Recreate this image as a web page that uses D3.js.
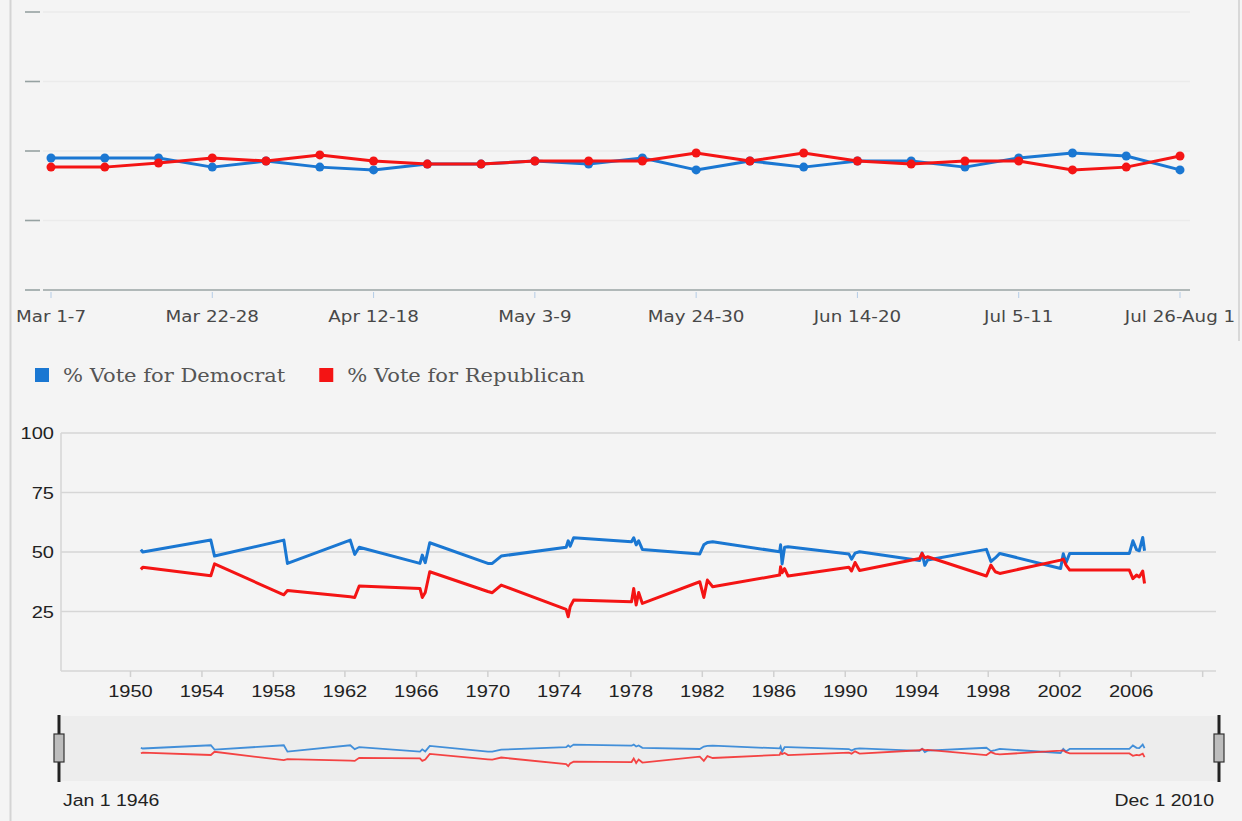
<!DOCTYPE html>
<html>
<head>
<meta charset="utf-8">
<script src="https://cdn.jsdelivr.net/npm/d3@7"></script>
<style>
  body { margin: 0; background: #f4f4f4; }
  svg { display: block; }
</style>
</head>
<body>
<div id="chart"></div>
<script>
// weekly poll (top chart)
const weeks = ["Mar 1-7", "Mar 8-14", "Mar 15-21", "Mar 22-28", "Mar 29-Apr 4", "Apr 5-11",
    "Apr 12-18", "Apr 19-25", "Apr 26-May 2", "May 3-9", "May 10-16", "May 17-23",
    "May 24-30", "May 31-Jun 6", "Jun 7-13", "Jun 14-20", "Jun 21-27", "Jun 28-Jul 4",
    "Jul 5-11", "Jul 12-18", "Jul 19-25", "Jul 26-Aug 1"];
const demWeekly = [47.5, 47.5, 47.5, 44.2, 46.4, 44.2, 43.2, 45.3, 45.3, 46.4, 45.3,
    47.5, 43.2, 46.4, 44.2, 46.4, 46.4, 44.2, 47.5, 49.3, 48.2, 43.2];
const repWeekly = [44.2, 44.2, 45.7, 47.5, 46.4, 48.6, 46.4, 45.3, 45.3, 46.4, 46.4,
    46.4, 49.3, 46.4, 49.3, 46.4, 45.3, 46.4, 46.4, 43.2, 44.2, 48.2];
const weekTickEvery = 3;
const weekTicksY = [0, 25, 50, 75, 100];

// long history (bottom chart)
const pollDates = ["1950-08-01", "1950-09-10", "1954-07-01", "1954-09-15", "1958-08-01", "1958-10-15",
    "1962-04-20", "1962-07-20", "1962-10-20", "1966-03-15", "1966-05-01", "1966-07-01", "1966-10-01",
    "1970-01-01", "1970-04-01", "1970-10-01", "1974-05-20", "1974-07-01", "1974-08-10", "1974-10-20",
    "1978-01-15", "1978-03-01", "1978-04-20", "1978-06-10", "1978-08-25", "1981-11-10", "1982-02-01",
    "1982-04-15", "1982-08-01", "1986-05-01", "1986-05-20", "1986-06-20", "1986-08-10", "1986-10-20",
    "1990-03-15", "1990-05-10", "1990-07-20", "1990-10-20", "1994-03-01", "1994-04-20", "1994-06-15",
    "1994-08-10", "1997-11-25", "1998-02-25", "1998-05-25", "1998-08-25", "2002-01-20", "2002-03-15",
    "2002-05-10", "2002-07-25", "2005-11-25", "2006-02-05", "2006-04-20", "2006-06-15", "2006-08-25",
    "2006-10-01"];
const demVote = [51, 50, 55, 48.3, 55, 45.2,
    55, 49, 52, 45.2, 48.7, 45.5, 53.9,
    45.2, 45.2, 48.3, 52, 54.7, 52.4, 56,
    54.3, 56, 53, 54.7, 51.1, 49.2, 53,
    54, 54.3, 50.1, 53, 45, 52, 52.2,
    49.2, 47, 49.5, 50.1, 46.4, 49.6, 44.4,
    46.6, 51.1, 46, 47.5, 49.4, 43.1, 49.3,
    45.5, 49.4, 49.4, 54.7, 51, 50.5, 56.1,
    50.5];
const repVote = [42.7, 43.6, 40, 45, 32, 33.8,
    31.2, 30.9, 35.7, 34.7, 30.9, 33, 41.7,
    33.4, 32.9, 36.1, 25.9, 22.8, 27, 29.8,
    29.1, 34.7, 27.7, 33, 28.4, 37.5, 30.9,
    38.2, 35.4, 40.3, 43.8, 41.3, 43, 39.9,
    43.6, 42, 45.6, 42.2, 47.3, 49.4, 47.5,
    48, 39.9, 44.5, 41.7, 41, 46.6, 47,
    44.5, 42.4, 42.4, 38.8, 40.3, 39.5, 42,
    36.8];
const seriesNames = ["% Vote for Democrat", "% Vote for Republican"];
const valueTicks = [25, 50, 75, 100];
const rangeStart = "1946-01-01";
const rangeEnd = "2010-12-01";

const BLUE = "#1a77d2";
const RED = "#f41414";
const STRETCH = 1.18;   // the picture's text is a bit wide

const width = 1242, height = 821;
const svg = d3.select("#chart").append("svg")
    .attr("width", width)
    .attr("height", height);

svg.append("rect").attr("width", width).attr("height", height).attr("fill", "#f4f4f4");

// place text at (x,y) and widen it
function placeText(sel, fx, fy) {
    sel.attr("transform", (d, i) => `translate(${fx(d, i)},${fy(d, i)}) scale(${STRETCH},1)`);
}

// panel borders
svg.append("line").attr("x1", 10.5).attr("x2", 10.5).attr("y1", 0).attr("y2", height)
    .attr("stroke", "#d4d4d4").attr("stroke-width", 2);
svg.append("line").attr("x1", 1239).attr("x2", 1239).attr("y1", 0).attr("y2", 341)
    .attr("stroke", "#d8d8d8").attr("stroke-width", 2);

// ---------- TOP CHART ----------
const xWeek = d3.scalePoint().domain(weeks).range([51, 1180]);
const yWeek = d3.scaleLinear().domain([0, 100]).range([290, 12]);

const topChart = svg.append("g");

topChart.selectAll(".grid")
    .data(weekTicksY.slice(1))
    .join("line")
    .attr("x1", 43).attr("x2", 1190)
    .attr("y1", d => yWeek(d)).attr("y2", d => yWeek(d))
    .attr("stroke", "#ebebeb").attr("stroke-width", 1.5);

topChart.selectAll(".dash")
    .data(weekTicksY)
    .join("line")
    .attr("x1", 25).attr("x2", 40)
    .attr("y1", d => yWeek(d)).attr("y2", d => yWeek(d))
    .attr("stroke", "#96a2a2").attr("stroke-width", 1.6);

topChart.append("line")
    .attr("x1", 43).attr("x2", 1190)
    .attr("y1", yWeek(0)).attr("y2", yWeek(0))
    .attr("stroke", "#9aa4a4").attr("stroke-width", 1.5);

const labelWeeks = weeks.filter((d, i) => i % weekTickEvery === 0);

topChart.selectAll(".wtick")
    .data(labelWeeks)
    .join("line")
    .attr("x1", d => xWeek(d)).attr("x2", d => xWeek(d))
    .attr("y1", yWeek(0) + 2).attr("y2", yWeek(0) + 8)
    .attr("stroke", "#b4cce6").attr("stroke-width", 1);

topChart.selectAll(".wlabel")
    .data(labelWeeks)
    .join("text")
    .call(placeText, d => xWeek(d), () => 322)
    .attr("text-anchor", "middle")
    .attr("font-family", "DejaVu Sans, Verdana, sans-serif")
    .attr("font-size", 15.5)
    .attr("fill", "#484848")
    .text(d => d);

const weekLine = d3.line().x((d, i) => xWeek(weeks[i])).y(d => yWeek(d));

[[demWeekly, BLUE], [repWeekly, RED]].forEach(([vals, col]) => {
    topChart.append("path")
        .datum(vals)
        .attr("d", weekLine)
        .attr("fill", "none")
        .attr("stroke", col)
        .attr("stroke-width", 3)
        .attr("stroke-linejoin", "round");
    topChart.selectAll(null)
        .data(vals)
        .join("circle")
        .attr("cx", (d, i) => xWeek(weeks[i]))
        .attr("cy", d => yWeek(d))
        .attr("r", 4.5)
        .attr("fill", col);
});

// ---------- LEGEND ----------
const legend = svg.append("g").attr("transform", "translate(35,375)");
const legendStretch = 1.17;
let lx = 0;
seriesNames.forEach((name, i) => {
    const g = legend.append("g").attr("transform", `translate(${lx},0)`);
    g.append("rect").attr("x", 0).attr("y", -7).attr("width", 14).attr("height", 14)
        .attr("fill", i === 0 ? BLUE : RED);
    const t = g.append("text")
        .attr("transform", `translate(28,6.5) scale(${legendStretch},1)`)
        .attr("font-family", "DejaVu Serif, serif")
        .attr("font-size", 18)
        .attr("fill", "#555")
        .text(name);
    lx += 28 + t.node().getComputedTextLength() * legendStretch + 34;
});

// ---------- BOTTOM CHART ----------
const parse = d3.timeParse("%Y-%m-%d");
const rows = pollDates.map((d, i) => ({ date: parse(d), dem: demVote[i], rep: repVote[i] }));

const x = d3.scaleTime().domain([parse(rangeStart), parse(rangeEnd)]).range([59, 1219]);
const y = d3.scaleLinear().domain([0, 100]).range([671, 433]);

const main = svg.append("g");

main.selectAll(".ygrid")
    .data(valueTicks)
    .join("line")
    .attr("x1", 61).attr("x2", 1216)
    .attr("y1", d => y(d)).attr("y2", d => y(d))
    .attr("stroke", "#d6d6d6").attr("stroke-width", 1.5);

main.append("line").attr("x1", 61).attr("x2", 61).attr("y1", y(100)).attr("y2", y(0))
    .attr("stroke", "#d6d6d6").attr("stroke-width", 1.5);
main.append("line").attr("x1", 61).attr("x2", 1216).attr("y1", y(0)).attr("y2", y(0))
    .attr("stroke", "#d6d6d6").attr("stroke-width", 1.5);

main.selectAll(".ylabel")
    .data(valueTicks)
    .join("text")
    .call(placeText, () => 54, d => y(d) + 6)
    .attr("text-anchor", "end")
    .attr("font-family", "Liberation Sans, Arial, sans-serif")
    .attr("font-size", 17)
    .attr("fill", "#222")
    .text(d => d);

const yearTicks = d3.timeYear.range(parse("1950-01-01"), parse("2011-01-01"), 4);

main.selectAll(".xtick")
    .data(yearTicks)
    .join("line")
    .attr("x1", d => x(d)).attr("x2", d => x(d))
    .attr("y1", y(0)).attr("y2", y(0) + 6)
    .attr("stroke", "#d0d0d0").attr("stroke-width", 1.5);

main.selectAll(".xlabel")
    .data(yearTicks.filter(d => d.getFullYear() < 2010))
    .join("text")
    .call(placeText, d => x(d), () => 697)
    .attr("text-anchor", "middle")
    .attr("font-family", "Liberation Sans, Arial, sans-serif")
    .attr("font-size", 17)
    .attr("fill", "#222")
    .text(d => d3.timeFormat("%Y")(d));

const demLine = d3.line().x(d => x(d.date)).y(d => y(d.dem));
const repLine = d3.line().x(d => x(d.date)).y(d => y(d.rep));

main.append("path").datum(rows).attr("d", demLine)
    .attr("fill", "none").attr("stroke", BLUE).attr("stroke-width", 3)
    .attr("stroke-linejoin", "round");
main.append("path").datum(rows).attr("d", repLine)
    .attr("fill", "none").attr("stroke", RED).attr("stroke-width", 3)
    .attr("stroke-linejoin", "round");

// ---------- RANGE NAVIGATOR ----------
const yMini = d3.scaleLinear().domain([0, 100]).range([781, 716]);
const nav = svg.append("g");

nav.append("rect")
    .attr("x", 61).attr("y", 716).attr("width", 1157).attr("height", 65)
    .attr("fill", "#ededed");

nav.append("path").datum(rows)
    .attr("d", d3.line().x(d => x(d.date)).y(d => yMini(d.dem)))
    .attr("fill", "none").attr("stroke", "#2f84d6").attr("stroke-width", 1.8).attr("opacity", 0.9);
nav.append("path").datum(rows)
    .attr("d", d3.line().x(d => x(d.date)).y(d => yMini(d.rep)))
    .attr("fill", "none").attr("stroke", "#f43030").attr("stroke-width", 1.8).attr("opacity", 0.9);

[parse(rangeStart), parse(rangeEnd)].forEach(d => {
    const hx = x(d);
    nav.append("line").attr("x1", hx).attr("x2", hx).attr("y1", 715).attr("y2", 782)
        .attr("stroke", "#222").attr("stroke-width", 3);
    nav.append("rect").attr("x", hx - 5).attr("y", 734).attr("width", 10).attr("height", 28)
        .attr("fill", "#bdbdbd").attr("stroke", "#333").attr("stroke-width", 1.2);
});

const navFmt = d3.timeFormat("%b %-d %Y");
nav.selectAll(".navlabel")
    .data([rangeStart, rangeEnd])
    .join("text")
    .call(placeText, (d, i) => i === 0 ? 63 : 1214, () => 806)
    .attr("text-anchor", (d, i) => i === 0 ? "start" : "end")
    .attr("font-family", "Liberation Sans, Arial, sans-serif")
    .attr("font-size", 16.5)
    .attr("fill", "#222")
    .text(d => navFmt(parse(d)));
</script>
</body>
</html>
